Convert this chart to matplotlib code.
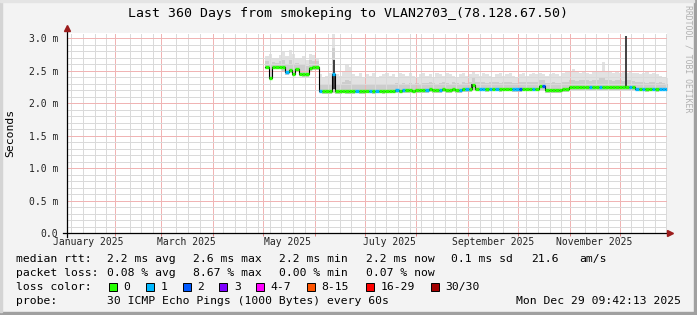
from datetime import datetime, timedelta

import matplotlib

matplotlib.use("Agg")
import matplotlib.dates as mdates
import matplotlib.pyplot as plt
from matplotlib import ticker
from matplotlib.patches import Rectangle
from matplotlib.transforms import offset_copy

# DATA ---------------------------------------------------------------
title = "Last 360 Days from smokeping to VLAN2703_(78.128.67.50)"
graph_end = datetime(2025, 12, 29, 9, 42, 13)
graph_start = graph_end - timedelta(days=360)

# smoke / median bins, 2 days each, first bin 119 days after graph start
first_bin_day = 119
bin_days = 2

median_ms = (
    [2.56, 2.39, 2.56, 2.56, 2.56, 2.55, 2.47, 2.51, 2.45, 2.52, 2.45, 2.44, 2.44, 2.54, 2.55, 2.55]
    + [2.19, 2.18, 2.18, 2.18, 2.45, 2.18, 2.18, 2.19, 2.18, 2.18, 2.18, 2.19, 2.18, 2.18, 2.19,
       2.19, 2.18, 2.19, 2.19, 2.18, 2.19, 2.19, 2.19, 2.20, 2.19]
    + [2.20, 2.20, 2.20, 2.19, 2.20, 2.20, 2.20, 2.20, 2.21, 2.20, 2.20, 2.20, 2.21, 2.20, 2.20,
       2.21, 2.20, 2.20, 2.21, 2.21, 2.21]
    + [2.27]
    + [2.22, 2.22, 2.22, 2.21, 2.22, 2.22, 2.22, 2.21, 2.22, 2.22, 2.22, 2.21, 2.21, 2.21, 2.22,
       2.22, 2.22, 2.22, 2.22]
    + [2.26, 2.26]
    + [2.20, 2.20, 2.20, 2.20, 2.20, 2.21, 2.21]
    + [2.25, 2.25, 2.24, 2.25, 2.25, 2.25, 2.24, 2.25, 2.25, 2.25, 2.24, 2.25, 2.25, 2.24, 2.25,
       2.25, 2.24, 2.25, 2.25, 2.24]
    + [2.22, 2.22, 2.22, 2.21, 2.22, 2.22, 2.21, 2.22, 2.22, 2.22]
)

# index into loss_names / loss_colors
loss_bucket = (
    [0, 0, 0, 0, 0, 0, 1, 0, 0, 0, 0, 0, 0, 0, 0, 0]
    + [1, 0, 0, 0, 1, 0, 0, 0, 0, 0, 0, 1, 0, 0, 0, 1, 0, 1, 0, 0, 0, 0, 0, 1, 0]
    + [1, 0, 0, 0, 0, 0, 0, 1, 0, 0, 0, 1, 0, 0, 0, 0, 0, 1, 0, 1, 0]
    + [0]
    + [0, 1, 1, 0, 1, 0, 1, 0, 0, 0, 0, 1, 1, 2, 0, 0, 0, 1, 0]
    + [0, 2]
    + [0, 0, 0, 0, 0, 0, 0]
    + [0, 0, 0, 0, 0, 0, 1, 0, 0, 1, 0, 0, 0, 0, 0, 0, 0, 0, 1, 0]
    + [1, 0, 1, 0, 0, 1, 0, 1, 1, 1]
)

smoke_lo = (
    [2.52, 2.36, 2.52, 2.53, 2.52, 2.50, 2.43, 2.46, 2.41, 2.48, 2.41, 2.40, 2.40, 2.50, 2.51, 2.51]
    + [2.15, 2.14, 2.14, 2.14, 2.16, 2.14, 2.14, 2.15, 2.14, 2.14, 2.14, 2.15, 2.14, 2.14, 2.15,
       2.15, 2.14, 2.15, 2.15, 2.14, 2.15, 2.15, 2.15, 2.16, 2.15]
    + [2.16, 2.16, 2.16, 2.15, 2.16, 2.16, 2.16, 2.16, 2.17, 2.16, 2.16, 2.16, 2.17, 2.16, 2.16,
       2.17, 2.16, 2.16, 2.17, 2.17, 2.17]
    + [2.20]
    + [2.18, 2.18, 2.18, 2.17, 2.18, 2.18, 2.18, 2.17, 2.18, 2.18, 2.18, 2.17, 2.17, 2.17, 2.18,
       2.18, 2.18, 2.18, 2.18]
    + [2.20, 2.20]
    + [2.16, 2.16, 2.16, 2.16, 2.16, 2.17, 2.17]
    + [2.20, 2.20, 2.19, 2.20, 2.20, 2.20, 2.19, 2.20, 2.20, 2.20, 2.19, 2.20, 2.20, 2.19, 2.20,
       2.20, 2.19, 2.20, 2.20, 2.19]
    + [2.18, 2.18, 2.18, 2.17, 2.18, 2.18, 2.17, 2.18, 2.18, 2.18]
)

smoke_mid = (
    [2.64, 2.58, 2.63, 2.62, 2.64, 2.66, 2.60, 2.66, 2.60, 2.62, 2.58, 2.58, 2.57, 2.66, 2.65, 2.64]
    + [2.30, 2.28, 2.29, 2.30, 2.85, 2.30, 2.29, 2.32, 2.36, 2.34, 2.29, 2.30, 2.29, 2.28, 2.30,
       2.30, 2.29, 2.30, 2.29, 2.28, 2.30, 2.30, 2.29, 2.31, 2.30]
    + [2.31, 2.30, 2.31, 2.30, 2.31, 2.30, 2.31, 2.31, 2.32, 2.31, 2.30, 2.31, 2.32, 2.31, 2.30,
       2.32, 2.31, 2.30, 2.32, 2.31, 2.32]
    + [2.38]
    + [2.32, 2.32, 2.33, 2.31, 2.32, 2.32, 2.33, 2.31, 2.32, 2.32, 2.33, 2.31, 2.31, 2.32, 2.33,
       2.32, 2.32, 2.33, 2.32]
    + [2.36, 2.35]
    + [2.31, 2.31, 2.32, 2.31, 2.31, 2.32, 2.32]
    + [2.35, 2.36, 2.34, 2.35, 2.35, 2.35, 2.34, 2.36, 2.35, 2.38, 2.40, 2.35, 2.35, 2.34, 2.35,
       2.35, 2.34, 2.36, 2.35, 2.34]
    + [2.32, 2.32, 2.32, 2.31, 2.32, 2.32, 2.31, 2.32, 2.31, 2.30]
)

smoke_hi = (
    [2.72, 2.76, 2.70, 2.68, 2.74, 2.78, 2.72, 2.82, 2.76, 2.68, 2.70, 2.72, 2.66, 2.76, 2.74, 2.70]
    + [2.44, 2.40, 2.42, 2.46, 3.06, 2.44, 2.42, 2.50, 2.58, 2.56, 2.44, 2.42, 2.46, 2.40, 2.44,
       2.42, 2.46, 2.40, 2.42, 2.44, 2.46, 2.42, 2.44, 2.40, 2.46]
    + [2.44, 2.42, 2.46, 2.42, 2.40, 2.44, 2.46, 2.42, 2.44, 2.40, 2.46, 2.44, 2.42, 2.46, 2.44,
       2.42, 2.40, 2.44, 2.46, 2.42, 2.44]
    + [2.48]
    + [2.44, 2.42, 2.46, 2.44, 2.42, 2.40, 2.44, 2.46, 2.42, 2.44, 2.46, 2.42, 2.40, 2.44, 2.46,
       2.42, 2.44, 2.46, 2.44]
    + [2.46, 2.44]
    + [2.42, 2.44, 2.46, 2.44, 2.42, 2.46, 2.48]
    + [2.50, 2.52, 2.48, 2.46, 2.48, 2.46, 2.44, 2.48, 2.50, 2.48, 2.63, 2.50, 2.48, 2.46, 2.48,
       2.46, 2.48, 2.46, 2.48, 2.46]
    + [2.46, 2.44, 2.46, 2.48, 2.44, 2.46, 2.44, 2.42, 2.40, 2.38]
)

# dark single-sample spikes (days after graph start)
spike_days = [160.4, 242.9, 335.4]
spike_lo = [2.22, 2.22, 2.24]
spike_hi = [2.66, 2.30, 3.03]

y_ticks = [0.0, 0.5, 1.0, 1.5, 2.0, 2.5, 3.0]
label_months = [1, 3, 5, 7, 9, 11]

loss_names = ["0", "1", "2", "3", "4-7", "8-15", "16-29", "30/30"]
loss_colors = ["#26ff00", "#00b8ff", "#0059ff", "#7e00ff",
               "#ff00ff", "#ff5500", "#ff0000", "#a10000"]

rtt_stats = ["2.2 ms avg", "2.6 ms max", "2.2 ms min", "2.2 ms now", "0.1 ms sd", "21.6", "am/s"]
loss_stats = ["0.08 % avg", "8.67 % max", "0.00 % min", "0.07 % now"]
probe_text = "30 ICMP Echo Pings (1000 Bytes) every 60s"
stamp = "Mon Dec 29 09:42:13 2025"

# LAYOUT -------------------------------------------------------------
W, H = 697, 315
plt.rcParams["font.family"] = "DejaVu Sans Mono"
plt.rcParams["lines.scale_dashes"] = False


def fx(x):
    return x / W


def fy(y):
    return 1 - y / H


fig = plt.figure(figsize=(W / 100, H / 100), dpi=100, facecolor="#f3f3f3")

# 3d-ish frame
fig.patches.append(Rectangle((0, 0), 1, 3 / H, transform=fig.transFigure, color="#a0a0a0"))
fig.patches.append(Rectangle((1 - 3 / W, 0), 3 / W, 1, transform=fig.transFigure, color="#a0a0a0"))
fig.patches.append(Rectangle((0, 3 / H), 2 / W, 1, transform=fig.transFigure, color="#d4d4d4"))
fig.patches.append(Rectangle((0, 1 - 2 / H), 1 - 3 / W, 2 / H, transform=fig.transFigure, color="#e4e4e4"))

ax = fig.add_axes([fx(67), fy(233), 600 / W, 200 / H])
ax.set_facecolor("white")
ax.set_xlim(graph_start, graph_end)
ax.set_ylim(0, 3.077)

n = len(median_ms)
edges = [graph_start + timedelta(days=first_bin_day + bin_days * i) for i in range(n + 1)]
lo_ext = smoke_lo + smoke_lo[-1:]
mid_ext = smoke_mid + smoke_mid[-1:]
hi_ext = smoke_hi + smoke_hi[-1:]
med_ext = median_ms + median_ms[-1:]

ax.fill_between(edges, lo_ext, hi_ext, step="post", color="#e2e2e2", lw=0, zorder=1)
ax.fill_between(edges, lo_ext, mid_ext, step="post", color="#cdcdcd", lw=0, zorder=1)
ax.vlines([graph_start + timedelta(days=d) for d in spike_days], spike_lo, spike_hi,
          color="#333333", lw=1.3, zorder=2)

ax.step(edges, med_ext, where="post", color="black", lw=0.8, zorder=2)
ax.hlines(median_ms, edges[:-1], edges[1:],
          colors=[loss_colors[b] for b in loss_bucket], lw=2.4, zorder=3)

# grid: months (red) and weeks (grey), weeks that fall on a month start skipped
month_loc = mdates.MonthLocator()
month_ticks = month_loc.tick_values(graph_start, graph_end)
week_ticks = mdates.WeekdayLocator(byweekday=mdates.MO).tick_values(graph_start, graph_end)
week_ticks = [t for t in week_ticks if min(abs(t - m) for m in month_ticks) > 2.5]
ax.xaxis.set_major_locator(month_loc)
ax.xaxis.set_minor_locator(ticker.FixedLocator(week_ticks))
ax.xaxis.set_major_formatter(ticker.NullFormatter())
ax.yaxis.set_major_locator(ticker.FixedLocator(y_ticks))
ax.yaxis.set_minor_locator(ticker.MultipleLocator(0.1))
ax.yaxis.set_major_formatter(ticker.FuncFormatter(lambda v, p: "0.0" if v == 0 else f"{v:.1f} m"))
ax.set_axisbelow("line")
dots = (0, (0.72, 0.72))
ax.grid(which="minor", color="#dadada", ls=dots, lw=0.72, antialiased=False)
ax.grid(which="major", color="#f0b4b4", ls=dots, lw=0.72, antialiased=False)
ax.tick_params(axis="y", which="both", length=0, pad=6.5, labelsize=7, labelcolor="#222222")
ax.tick_params(axis="x", which="major", length=2.5, color="#e08080", width=0.7)
ax.tick_params(axis="x", which="minor", length=0)
for s in ax.spines.values():
    s.set_visible(False)

# month labels centred in the month
sec = ax.secondary_xaxis("bottom")
sec.set_xticks(mdates.date2num([datetime(2025, m, 16) for m in label_months]))
sec.xaxis.set_major_formatter(mdates.DateFormatter("%B %Y"))
sec.tick_params(length=0, pad=3, labelsize=7, labelcolor="#222222")
sec.xaxis.set_minor_locator(ticker.NullLocator())
sec.spines["bottom"].set_visible(False)

# axis lines with arrows
ax.axhline(0, xmin=-4 / 600, xmax=1.0, color="black", lw=0.9, clip_on=False, zorder=6)
ax.axvline(mdates.date2num(graph_start), ymin=-4 / 200, ymax=1.025, color="black", lw=0.9,
           clip_on=False, zorder=6)
arrow_c = "#9c1c1c"
ax.plot([1], [0], marker=">", ms=4.5, color=arrow_c, clip_on=False, zorder=7,
        transform=offset_copy(ax.transAxes, fig, x=3, units="dots"))
ax.plot([0], [1], marker="^", ms=4.5, color=arrow_c, clip_on=False, zorder=7,
        transform=offset_copy(ax.transAxes, fig, y=5, units="dots"))

# texts
fig.text(fx(348), fy(13), title, ha="center", va="center", fontsize=9.5)
fig.text(fx(10.5), fy(133), "Seconds", rotation=90, ha="center", va="center", fontsize=8.2)
fig.text(fx(688), fy(5), "RRDTOOL / TOBI OETIKER", rotation=-90, ha="center", va="top",
         fontsize=5.9, color="#b0b0b0")

fs = 8.2
col_x = [107, 193, 279, 366, 451, 531, 579]
row_y = [259, 273, 287, 301]
fig.text(fx(16), fy(row_y[0]), "median rtt:", va="center", fontsize=fs)
for x, s in zip(col_x, rtt_stats):
    fig.text(fx(x), fy(row_y[0]), s, va="center", fontsize=fs)
fig.text(fx(16), fy(row_y[1]), "packet loss:", va="center", fontsize=fs)
for x, s in zip(col_x, loss_stats):
    fig.text(fx(x), fy(row_y[1]), s, va="center", fontsize=fs)

fig.text(fx(16), fy(row_y[2]), "loss color:", va="center", fontsize=fs)
box_x = [108.7, 145.7, 182.7, 219.3, 256, 307, 365.7, 430.7]
for x, name, c in zip(box_x, loss_names, loss_colors):
    fig.patches.append(Rectangle((fx(x), fy(row_y[2] + 4)), 8 / W, 8 / H,
                                 transform=fig.transFigure, facecolor=c,
                                 edgecolor="black", lw=0.7))
    fig.text(fx(x + 14.5), fy(row_y[2]), name, va="center", fontsize=fs)

fig.text(fx(16), fy(row_y[3]), "probe:", va="center", fontsize=fs)
fig.text(fx(107), fy(row_y[3]), probe_text, va="center", fontsize=fs)
fig.text(fx(681), fy(row_y[3]), stamp, ha="right", va="center", fontsize=fs)

fig.savefig("out.png", dpi=100, facecolor=fig.get_facecolor())
